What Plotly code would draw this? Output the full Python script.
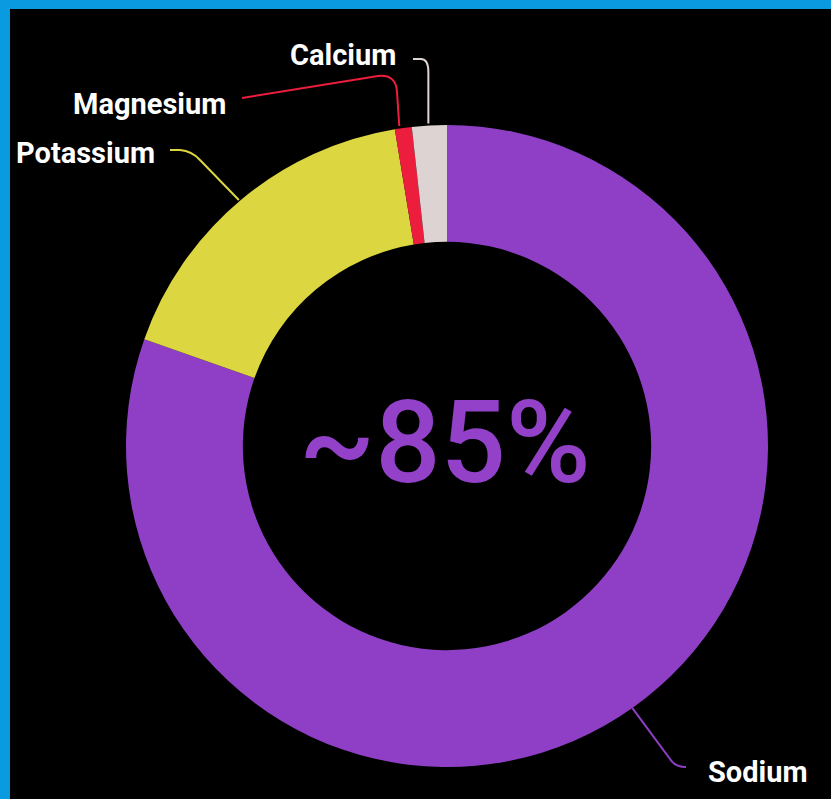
import math
import plotly.graph_objects as go

# ---- data ----
elements = ["Sodium", "Potassium", "Magnesium", "Calcium"]
shares = [80.4, 17.0, 0.85, 1.75]
colors = ["#8f3fc6", "#dcd640", "#ec1d3d", "#ddd3d3"]
center_label = "~85%"

W, H = 831, 799
CX, CY, R = 447, 446, 321  # donut centre / outer radius in px
HOLE = 0.636

def px(x):
    return x / W

def py(y):
    return 1 - y / H

fig = go.Figure()
fig.add_trace(go.Pie(
    labels=elements, values=shares, sort=False, direction="clockwise",
    rotation=0, hole=HOLE, textinfo="none", hoverinfo="label+percent",
    marker=dict(colors=colors, line=dict(width=0)),
    domain=dict(x=[px(CX - R), px(CX + R)], y=[py(CY + R), py(CY - R)]),
    showlegend=False,
))

# anchors on the outer edge at each slice's mid-angle (clockwise from 12 o'clock)
total = sum(shares)
anchors = {}
acc = 0.0
for name, v in zip(elements, shares):
    mid = (acc + v / 2) / total * 2 * math.pi
    anchors[name] = (CX + R * math.sin(mid), CY - R * math.cos(mid))
    acc += v

# label placement (text centres) and leader-line routes
label_pos = {
    "Calcium": (343, 55),
    "Magnesium": (149, 104),
    "Potassium": (85, 153),
    "Sodium": (758, 772),
}

def path_pts(cmds):
    out = []
    for c in cmds:
        if isinstance(c, str):
            out.append(c)
        else:
            out.append(f"{px(c[0]):.5f},{py(c[1]):.5f}")
    return " ".join(out)

shapes = [dict(type="rect", xref="paper", yref="paper", x0=px(10), x1=1, y0=0, y1=py(9),
               fillcolor="#000000", line=dict(width=0), layer="below")]

ax, ay = anchors["Calcium"]
shapes.append(dict(type="path", xref="paper", yref="paper",
                   path=path_pts(["M", (413, 59), "L", (421, 59), "Q", (ax - 1, 59), (ax - 1, 72), "L", (ax - 1, ay - 2)]),
                   line=dict(color=colors[3], width=2)))
ax, ay = anchors["Magnesium"]
shapes.append(dict(type="path", xref="paper", yref="paper",
                   path=path_pts(["M", (242, 98), "L", (378, 76), "Q", (396, 74), (397, 92), "L", (ax - 4, ay - 2)]),
                   line=dict(color=colors[2], width=2)))
ax, ay = anchors["Potassium"]
shapes.append(dict(type="path", xref="paper", yref="paper",
                   path=path_pts(["M", (170, 150), "L", (180, 150), "Q", (192, 151), (200, 160), "L", (ax - 2, ay)]),
                   line=dict(color=colors[1], width=2)))
ax, ay = anchors["Sodium"]
shapes.append(dict(type="path", xref="paper", yref="paper",
                   path=path_pts(["M", (ax, ay), "L", (670, 759), "Q", (675, 767), (686, 767)]),
                   line=dict(color=colors[0], width=2)))

annotations = []
for name, (x, y) in label_pos.items():
    annotations.append(dict(x=px(x), y=py(y), xref="paper", yref="paper", text=f"<b>{name}</b>",
                            showarrow=False, xanchor="center", yanchor="middle",
                            font=dict(family="Roboto", size=29, color="#ffffff")))
annotations.append(dict(x=px(445), y=py(443), xref="paper", yref="paper", text=center_label,
                        showarrow=False, xanchor="center", yanchor="middle",
                        font=dict(family="Roboto", size=115, color="#9341c9", weight=500)))

fig.update_layout(
    width=W, height=H, margin=dict(l=0, r=0, t=0, b=0),
    paper_bgcolor="#0a9ae0", plot_bgcolor="#000000",
    shapes=shapes, annotations=annotations,
)
fig.write_html("out.html")
